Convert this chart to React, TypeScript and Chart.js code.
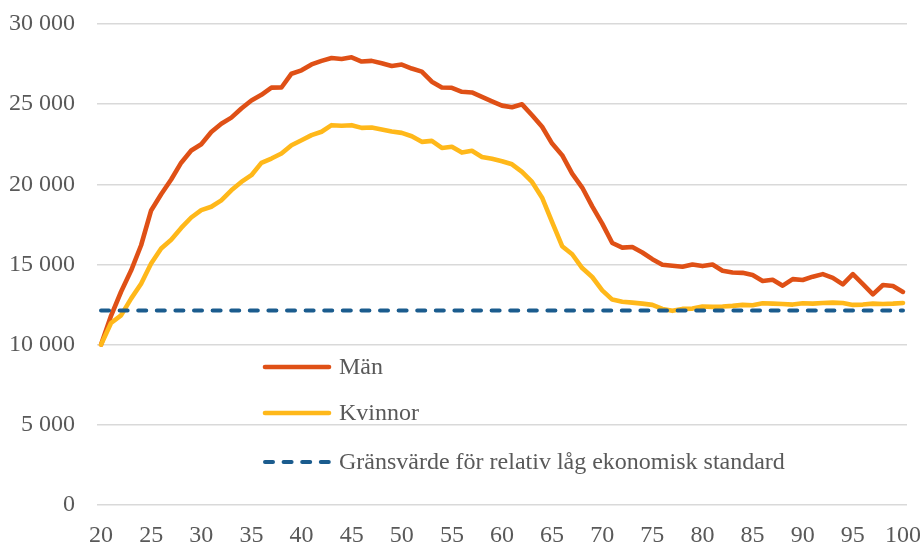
import React, { useEffect, useRef } from "react";
import { Chart, registerables } from "chart.js";

Chart.register(...registerables);

const ages = [
  20, 21, 22, 23, 24, 25, 26, 27, 28, 29, 30, 31, 32, 33, 34, 35, 36, 37, 38, 39,
  40, 41, 42, 43, 44, 45, 46, 47, 48, 49, 50, 51, 52, 53, 54, 55, 56, 57, 58, 59,
  60, 61, 62, 63, 64, 65, 66, 67, 68, 69, 70, 71, 72, 73, 74, 75, 76, 77, 78, 79,
  80, 81, 82, 83, 84, 85, 86, 87, 88, 89, 90, 91, 92, 93, 94, 95, 96, 97, 98, 99, 100,
];

const manValues = [
  10000, 11800, 13300, 14620, 16200, 18370, 19380, 20300, 21350, 22110,
  22500, 23260, 23780, 24160, 24730, 25230, 25580, 26030, 26040, 26900,
  27110, 27480, 27700, 27880, 27820, 27920, 27660, 27700, 27550, 27380,
  27470, 27220, 27030, 26400, 26040, 26020, 25770, 25730, 25460, 25180,
  24910, 24810, 24990, 24310, 23590, 22540, 21820, 20670, 19800, 18630,
  17550, 16340, 16050, 16090, 15750, 15330, 14980, 14920, 14860, 15000,
  14900, 15000, 14610, 14500, 14480, 14340, 13970, 14050, 13680, 14090,
  14030, 14240, 14400, 14170, 13760, 14400, 13780, 13140, 13720, 13660, 13290,
];

const kvinnorValues = [
  10000, 11350, 11830, 12870, 13800, 15060, 16000, 16550, 17280, 17930,
  18390, 18600, 19000, 19630, 20150, 20570, 21340, 21610, 21920, 22440,
  22750, 23070, 23280, 23690, 23650, 23690, 23520, 23540, 23420, 23290,
  23210, 23000, 22650, 22710, 22270, 22340, 21980, 22090, 21710, 21590,
  21440, 21250, 20780, 20150, 19170, 17650, 16140, 15640, 14780, 14220,
  13390, 12810, 12680, 12620, 12560, 12480, 12230, 12110, 12230, 12250,
  12380, 12360, 12380, 12420, 12480, 12460, 12580, 12560, 12540, 12500,
  12580, 12560, 12600, 12620, 12600, 12480, 12500, 12560, 12540, 12560, 12600,
];

const thresholdValue = 12130;

const xTickValues = [20, 25, 30, 35, 40, 45, 50, 55, 60, 65, 70, 75, 80, 85, 90, 95, 100];
const yTickValues = [0, 5000, 10000, 15000, 20000, 25000, 30000];

const seriesLabels = ["Män", "Kvinnor", "Gränsvärde för relativ låg ekonomisk standard"];

const COLORS = {
  man: "#DF5016",
  kvinnor: "#FFB81A",
  threshold: "#1B5C8E",
  grid: "#D9D9D9",
  text: "#595959",
};

const FONT_FAMILY = "'Liberation Serif', 'Times New Roman', serif";
const FONT_SIZE = 24;

const LEGEND_LAYOUT = {
  lineStartOffset: 168, // from chartArea.left
  lineLength: 64,
  textGap: 10,
  rowOffsets: [343, 389, 438], // from chartArea.top
};

const formatThousands = (v: number) =>
  String(v).replace(/\B(?=(\d{3})+(?!\d))/g, " ");

const zeroPadding = (scale: any) => {
  scale.paddingTop = 0;
  scale.paddingBottom = 0;
  scale.paddingLeft = 0;
  scale.paddingRight = 0;
};

const legendPlugin = {
  id: "insideLegend",
  afterDraw(chart: any) {
    const { ctx, chartArea } = chart;
    ctx.save();
    ctx.font = `${FONT_SIZE}px ${FONT_FAMILY}`;
    ctx.textBaseline = "middle";
    ctx.textAlign = "left";
    chart.data.datasets.forEach((ds: any, i: number) => {
      const y = chartArea.top + LEGEND_LAYOUT.rowOffsets[i];
      const x0 = chartArea.left + LEGEND_LAYOUT.lineStartOffset;
      const x1 = x0 + LEGEND_LAYOUT.lineLength;
      ctx.beginPath();
      ctx.strokeStyle = ds.borderColor;
      ctx.lineWidth = ds.borderWidth;
      ctx.lineCap = "round";
      ctx.setLineDash(ds.borderDash || []);
      ctx.moveTo(x0, y);
      ctx.lineTo(x1, y);
      ctx.stroke();
      ctx.setLineDash([]);
      ctx.fillStyle = COLORS.text;
      ctx.fillText(ds.label, x1 + LEGEND_LAYOUT.textGap, y + 1);
    });
    ctx.restore();
  },
};

export default function App() {
  const canvasRef = useRef<HTMLCanvasElement | null>(null);

  useEffect(() => {
    document.body.style.margin = "0";
    const canvas = canvasRef.current;
    if (!canvas) return;

    const toPoints = (vals: number[]) => ages.map((a, i) => ({ x: a, y: vals[i] }));

    const chart = new Chart(canvas, {
      type: "line",
      data: {
        datasets: [
          {
            label: seriesLabels[0],
            data: toPoints(manValues),
            borderColor: COLORS.man,
            backgroundColor: COLORS.man,
            borderWidth: 4.6,
            pointRadius: 0,
            tension: 0,
            borderJoinStyle: "round",
            borderCapStyle: "round",
            order: 3,
          },
          {
            label: seriesLabels[1],
            data: toPoints(kvinnorValues),
            borderColor: COLORS.kvinnor,
            backgroundColor: COLORS.kvinnor,
            borderWidth: 4.6,
            pointRadius: 0,
            tension: 0,
            borderJoinStyle: "round",
            borderCapStyle: "round",
            order: 2,
          },
          {
            label: seriesLabels[2],
            data: ages.map((a) => ({ x: a, y: thresholdValue })),
            borderColor: COLORS.threshold,
            backgroundColor: COLORS.threshold,
            borderWidth: 4,
            borderDash: [8, 10.6],
            borderCapStyle: "round",
            pointRadius: 0,
            tension: 0,
            order: 1,
          },
        ],
      },
      options: {
        responsive: false,
        animation: false,
        layout: { padding: { top: 24, right: 13, bottom: 0, left: 0 } },
        plugins: {
          legend: { display: false },
          tooltip: { enabled: false },
        },
        scales: {
          x: {
            type: "linear",
            min: 19.6,
            max: 100.4,
            afterBuildTicks: (scale: any) => {
              scale.ticks = xTickValues.map((v) => ({ value: v }));
            },
            afterFit: (scale: any) => {
              scale.height = 37;
              zeroPadding(scale);
            },
            grid: { display: false, drawTicks: false },
            border: { display: false },
            ticks: {
              color: COLORS.text,
              font: { family: FONT_FAMILY, size: FONT_SIZE },
              padding: 16,
              maxRotation: 0,
              autoSkip: false,
              callback: (v: any) => String(v),
            },
          },
          y: {
            min: 0,
            max: 30000,
            afterBuildTicks: (scale: any) => {
              scale.ticks = yTickValues.map((v) => ({ value: v }));
            },
            afterFit: (scale: any) => {
              scale.width = 97;
              zeroPadding(scale);
            },
            grid: { color: COLORS.grid, lineWidth: 1.5, drawTicks: false },
            border: { display: false },
            ticks: {
              color: COLORS.text,
              font: { family: FONT_FAMILY, size: FONT_SIZE },
              padding: 22,
              callback: (v: any) => formatThousands(Number(v)),
            },
          },
        },
      },
      plugins: [legendPlugin],
    });

    return () => chart.destroy();
  }, []);

  return (
    <div style={{ width: 920, height: 542, position: "relative" }}>
      <canvas ref={canvasRef} width={920} height={542} style={{ width: 920, height: 542 }} />
    </div>
  );
}
